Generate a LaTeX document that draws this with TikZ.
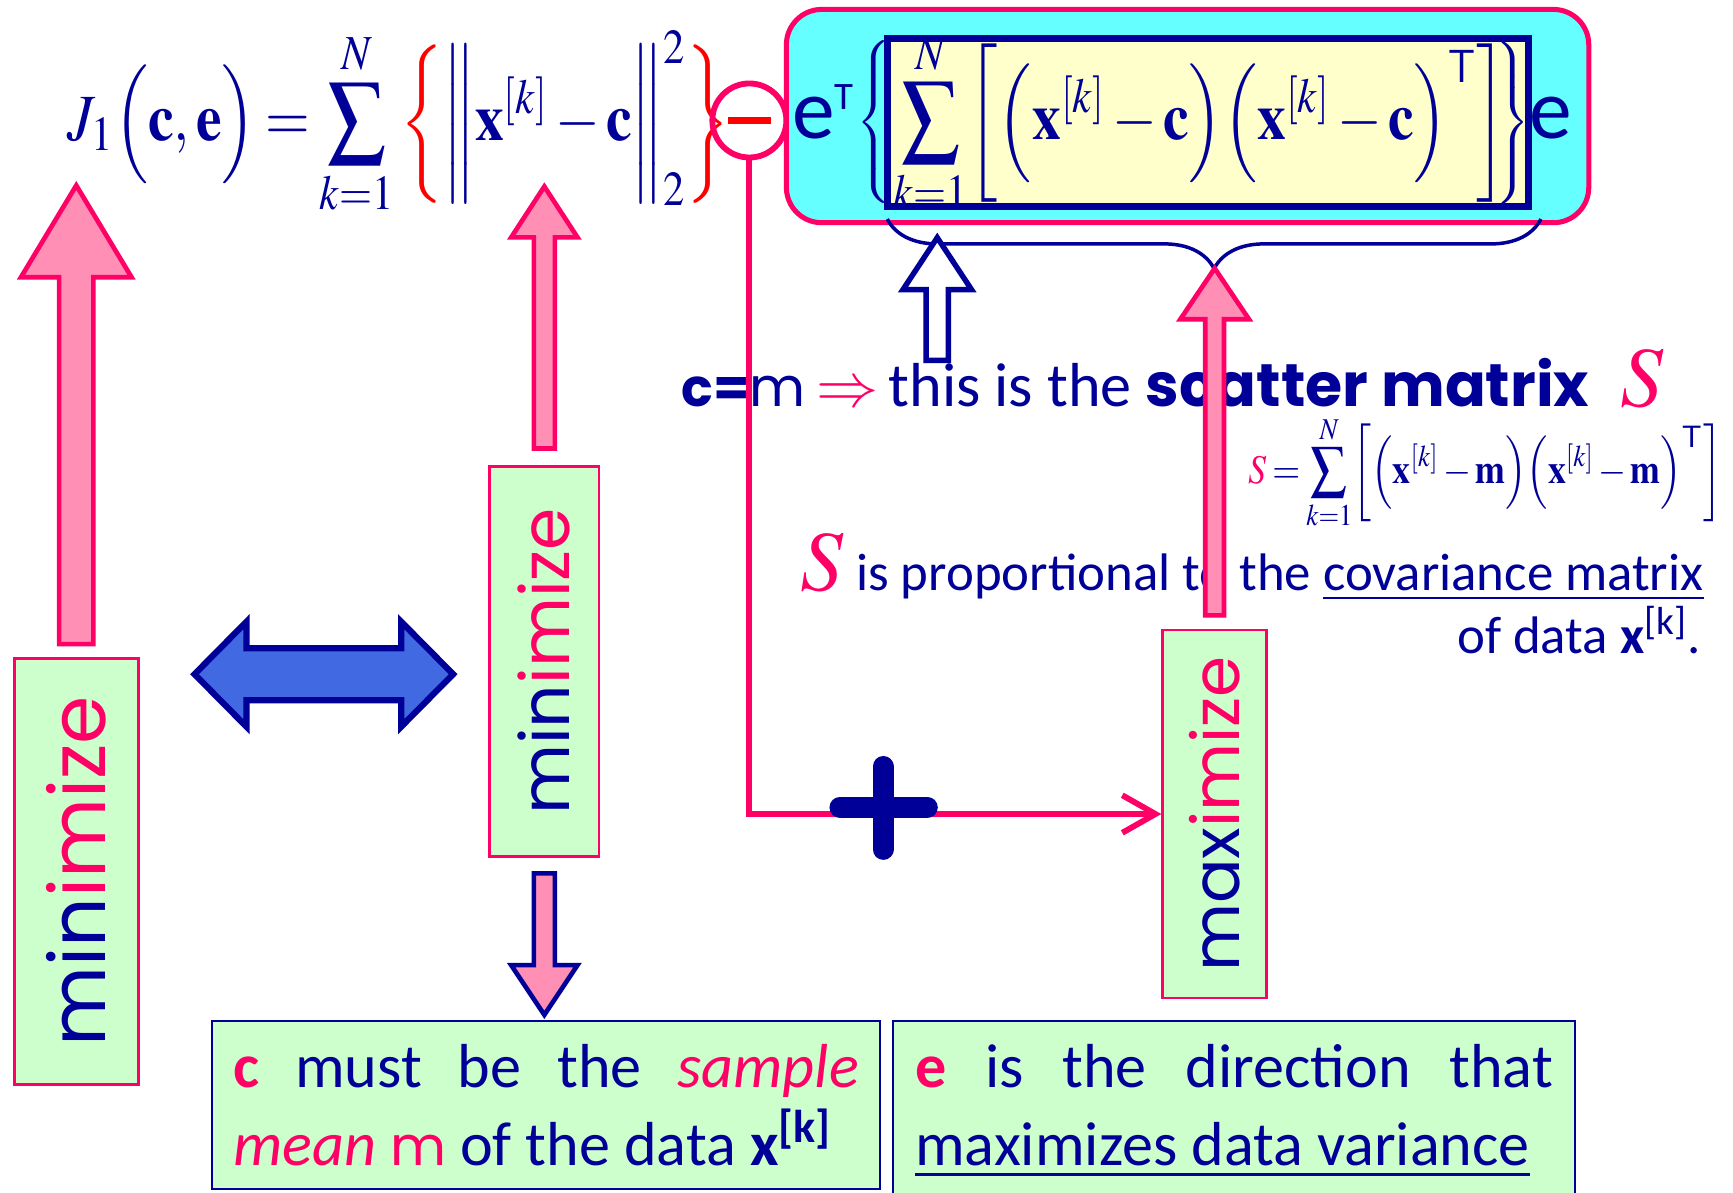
\documentclass[tikz,border=0pt]{standalone}
\usepackage{amsmath}
\usepackage{mathptmx}
\usepackage[no-math]{fontspec}
\setmainfont{Carlito}
\newfontfamily\comicfont{Poppins}
\usetikzlibrary{arrows.meta,positioning,calc,decorations.pathreplacing}
\definecolor{slideInk}{RGB}{0,0,153}
\definecolor{slidePink}{RGB}{255,0,102}
\definecolor{slideRed}{RGB}{255,0,0}
\definecolor{boxCyan}{RGB}{102,255,255}
\definecolor{boxYellow}{RGB}{255,255,204}
\definecolor{boxGreen}{RGB}{204,255,204}
\definecolor{arrowPink}{RGB}{255,143,180}
\definecolor{arrowBlue}{RGB}{65,105,225}

\tikzset{
  pics/blockup/.style n args={4}{code={
    \path[pic actions] (-#2,0) -- (-#2,#1-#4) -- (-#3,#1-#4) -- (0,#1)
      -- (#3,#1-#4) -- (#2,#1-#4) -- (#2,0) -- cycle;}},
  pics/blockboth/.style n args={4}{code={
    \path[pic actions] (-#1,0) -- (-#1+#4,#3) -- (-#1+#4,#2) -- (#1-#4,#2) -- (#1-#4,#3)
      -- (#1,0) -- (#1-#4,-#3) -- (#1-#4,-#2) -- (-#1+#4,-#2) -- (-#1+#4,-#3) -- cycle;}}
}

\begin{document}
\begin{tikzpicture}[
      mathsz/.style={font=\fontsize{17}{21}\selectfont,text=slideInk,inner sep=0pt},
      bigtxt/.style={font=\fontsize{16}{19}\selectfont,text=slideInk,inner sep=0pt},
      midtxt/.style={font=\fontsize{13.6}{17}\selectfont,text=slideInk,inner sep=0pt},
      vbox/.style={rectangle,draw=slidePink,fill=boxGreen,line width=0.7pt,inner sep=0pt},
      tbox/.style={rectangle,draw=slideInk,fill=boxGreen,line width=0.6pt,anchor=north west,
                   align=justify,inner xsep=0.19cm,inner ysep=0.21cm,
                   font=\fontsize{16}{20}\selectfont,text=slideInk},
      pinkarrow/.style={draw=slidePink,fill=arrowPink,line width=1.2pt},
      pinkline/.style={draw=slidePink,line width=1.5pt}]

    \useasboundingbox (0,0) rectangle (15.68,-10.79);
    \fill[white] (0,0) rectangle (15.68,-10.79);
    \thickmuskip=3mu \medmuskip=2mu

    % ---------- top line : the cost J_1 ----------
    \node[mathsz,anchor=west] (jform) at (0.60,-1.12)
      {\scalebox{0.87}[1]{$\displaystyle J_{1}\Bigl(\mathbf{c},\mathbf{e}\Bigr)=\sum_{k=1}^{N}\textcolor{slideRed}{\biggl\{}\biggl\|\mathbf{x}^{[k]}-\mathbf{c}\biggr\|_{2}^{2}\textcolor{slideRed}{\biggr\}}$}};
    \node[circle,draw=slidePink,line width=1.5pt,minimum size=0.67cm,inner sep=0pt] (minus) at (6.78,-1.09)
      {\textcolor{slideRed}{\rule{0.39cm}{1.8pt}}};
    \node[rectangle,rounded corners=0.32cm,draw=slidePink,fill=boxCyan,line width=1.3pt,
          minimum width=7.26cm,minimum height=1.93cm] (quad) at (10.745,-1.05) {};
    \node[rectangle,draw=slideInk,fill=boxYellow,line width=1.8pt,
          minimum width=5.80cm,minimum height=1.52cm] (scat) at (10.93,-1.11) {};
    \node[mathsz,anchor=west] (scatsum) at (8.08,-1.115)
      {\scalebox{0.87}[1]{$\displaystyle\sum_{k=1}^{N}\biggl[\Bigl(\mathbf{x}^{[k]}-\mathbf{c}\Bigr)\Bigl(\mathbf{x}^{[k]}-\mathbf{c}\Bigr)^{\mathsf{T}}\biggr]$}};
    \node[anchor=base west,inner sep=0pt,text=slideInk,font=\fontsize{22}{26}\selectfont] (eT) at (7.16,-1.25)
      {e\raisebox{0.26cm}{\fontsize{10}{12}\selectfont T}};
    \node[text=slideInk,inner sep=0pt] (lbr) at (7.93,-1.105) {$\left\{\vcenter{\hbox{\rule{0pt}{1.45cm}}}\right.$};
    \node[text=slideInk,inner sep=0pt] (rbr) at (13.67,-1.11) {$\left.\vcenter{\hbox{\rule{0pt}{1.45cm}}}\right\}$};
    \node[anchor=base west,inner sep=0pt,text=slideInk,font=\fontsize{22}{26}\selectfont] (eR) at (13.83,-1.25) {e};
    \draw[slideInk,line width=0.9pt,decorate,decoration={brace,mirror,amplitude=0.45cm}]
      ($(scat.south west)+(0.03,-0.08)$) -- ($(scat.south east)+(0.08,-0.08)$);

    % ---------- right part : scatter matrix ----------
    \node[bigtxt,anchor=base west] (cmline) at (6.16,-3.68)
      {{\comicfont\fontsize{13.5}{16}\selectfont\bfseries c=}{\comicfont\fontsize{14}{16}\selectfont m}\,\textcolor{slidePink}{$\boldsymbol{\Rightarrow}$}\,this is the
       {\comicfont\fontsize{15.5}{18}\selectfont\bfseries scatter matrix}\enspace{\fontsize{22}{24}\selectfont\textcolor{slidePink}{$S$}}};
    \node[text=slideInk,inner sep=0pt,font=\fontsize{10.5}{12}\selectfont,anchor=east] (sform) at (15.59,-4.28)
      {\scalebox{0.88}[1]{$\displaystyle\textcolor{slidePink}{S}=\sum_{k=1}^{N}\biggl[\Bigl(\mathbf{x}^{[k]}-\mathbf{m}\Bigr)\Bigl(\mathbf{x}^{[k]}-\mathbf{m}\Bigr)^{\mathsf{T}}\biggr]$}};
    \node[midtxt,anchor=base east] (propline) at (15.42,-5.34)
      {{\fontsize{22}{24}\selectfont\textcolor{slidePink}{$S$}} is proportional to the \underline{covariance matrix}};
    \node[midtxt,anchor=base east] (ofdata) at (15.40,-5.91) {of data \textbf{x}\textsuperscript{[k]}.};
    \pic[draw=slideInk,fill=white,line width=1.4pt] at (8.48,-3.26) {blockup={1.11}{0.10}{0.31}{0.47}};

    % ---------- vertical boxes ----------
    \node[vbox,minimum width=1.12cm,minimum height=3.85cm] (lmin) at (0.69,-7.885)
      {\rotatebox{90}{\comicfont\fontsize{20}{24}\selectfont\textcolor{slideInk}{min}\textcolor{slidePink}{imize}}};
    \node[vbox,minimum width=0.99cm,minimum height=3.53cm] (mmin) at (4.925,-5.985)
      {\rotatebox{90}{\comicfont\fontsize{17.5}{21}\selectfont\textcolor{slideInk}{min}\textcolor{slidePink}{imize}}};
    \node[vbox,minimum width=0.94cm,minimum height=3.33cm] (maxbox) at (10.99,-7.365)
      {\rotatebox{90}{\comicfont\fontsize{17}{21}\selectfont\textcolor{slideInk}{max}\textcolor{slidePink}{imize}}};

    \pic[pinkarrow] at ($(lmin.north)+(0,0.12)$) {blockup={4.15}{0.155}{0.50}{0.83}};
    \pic[pinkarrow] at ($(mmin.north)+(0,0.15)$) {blockup={2.37}{0.095}{0.30}{0.46}};
    \pic[pinkarrow] at ($(maxbox.north)+(0,0.12)$) {blockup={3.14}{0.085}{0.31}{0.46}};
    \pic[draw=slideInk,fill=arrowPink,line width=1.2pt,rotate=180] at ($(mmin.south)+(0,-0.14)$)
      {blockup={1.28}{0.095}{0.30}{0.45}};
    \pic[draw=slideInk,fill=arrowBlue,line width=1.6pt] at (2.93,-6.10) {blockboth={1.17}{0.235}{0.475}{0.47}};

    % ---------- minus branch to maximize ----------
    \draw[pinkline,-{Straight Barb[length=0.3cm,width=0.34cm]}] (minus.south) |- (maxbox.west);
    \coordinate (plus) at (7.99,-7.305);
    \draw[slideInk,line width=0.19cm,line cap=round] ($(plus)+(-0.39,0)$) -- ($(plus)+(0.40,0)$);
    \draw[slideInk,line width=0.19cm,line cap=round] ($(plus)+(0,0.37)$) -- ($(plus)+(0,-0.38)$);

    % ---------- bottom boxes ----------
    \node[tbox,text width=5.66cm] (cbox) at (1.91,-9.23)
      {\textcolor{slidePink}{\textbf{c}} must be the \textcolor{slidePink}{\textit{sample}}\linebreak
       \textcolor{slidePink}{\textit{mean}} \textcolor{slidePink}{\comicfont\fontsize{14}{16}\selectfont m} of the data \textbf{x}\textsuperscript{\textbf{[k]}}};
    \node[tbox,text width=5.77cm,inner xsep=0.2cm] (ebox) at (8.07,-9.23)
      {\textcolor{slidePink}{\textbf{e}} is the direction that\linebreak
       \underline{maximizes data variance}};
  \end{tikzpicture}
\end{document}
